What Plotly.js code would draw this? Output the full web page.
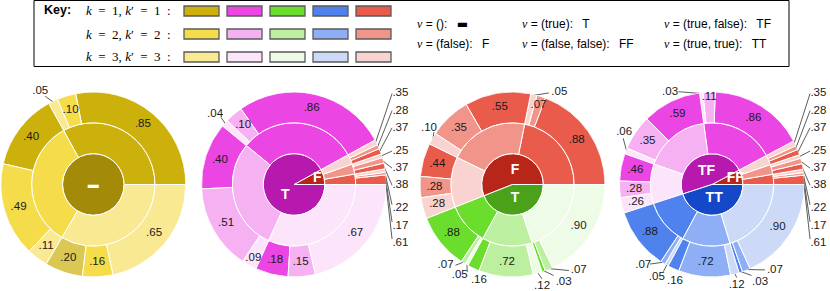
<!DOCTYPE html>
<html><head><meta charset="utf-8">
<script src="https://cdn.plot.ly/plotly-3.0.1.min.js"></script>
<style>html,body{margin:0;padding:0;background:#fff}</style>
</head><body><div id="chart" style="width:830px;height:291px"></div>
<script>
// ---------------- colours (center, k=1, k=2, k=3) ----------------
const yellowColors  = ['#A38B09','#CCB00C','#F5DC4A','#F8E992'];
const magentaColors = ['#B719AF','#EB45E3','#F5B1F1','#FCE4FB'];
const greenColors   = ['#4BA11A','#6BDD2C','#BCEFA0','#EEFBE6'];
const blueColors    = ['#1548C9','#5082EE','#8EAEF5','#CCDAF8'];
const redColors     = ['#B8261A','#E95B4B','#F1958B','#F9D3CF'];
const keyFamilies   = ['yellow','magenta','green','blue','red'];
const keyRowLabels  = ['<i>k</i>\u2002=\u20021, <i>k</i>′\u2002=\u20021\u2002:',
                       '<i>k</i>\u2002=\u20022, <i>k</i>′\u2002=\u20022\u2002:',
                       '<i>k</i>\u2002=\u20023, <i>k</i>′\u2002=\u20023\u2002:'];

// ---------------- chart 1 : v = () ----------------
const roots1    = ['▬'];
const families1 = ['yellow'];
const shares1   = [1];
const inner1    = [[0.33, 0.335, 0.335]];
const outer1    = [[.85,.10,.05],[.40,.49,.11],[.20,.16,.65]];
const faded1    = [6];

// ---------------- chart 2 : v = (true) / (false) ----------------
const roots2    = ['F','T'];
const families2 = ['red','magenta'];
const shares2   = [0.08, 0.92];
const inner2    = [[.34,.33,.33],[.338,.317,.345]];
const outer2    = [[.61,.17,.22],[.38,.37,.25],[.37,.28,.35],
                   [.86,.10,.04],[.40,.51,.09],[.18,.15,.67]];

// ---------------- chart 3 ----------------
const roots3    = ['F','T'];
const families3 = ['red','green'];
const shares3   = [0.56, 0.44];
const inner3    = [[.39,.374,.236],[.25,.30,.45]];
const outer3    = [[.88,.07,.05],[.55,.35,.10],[.44,.28,.28],
                   [.88,.07,.05],[.16,.72,.12],[.03,.07,.90]];

// ---------------- chart 4 ----------------
const roots4    = ['FF','TF','TT'];
const families4 = ['red','magenta','blue'];
const shares4   = [0.078, 0.472, 0.45];
const inner4    = [[.34,.33,.33],[.41,.37,.22],[.27,.28,.45]];
const outer4    = [[.61,.17,.22],[.38,.37,.25],[.37,.28,.35],
                   [.86,.11,.03],[.59,.35,.06],[.46,.28,.26],
                   [.88,.07,.05],[.16,.72,.12],[.03,.07,.90]];

// legend texts
const legendTexts = [
  ['(): ', '<span style="font-family:DejaVu Sans">▬</span>'], ['(false): ', 'F'],
  ['(true): ', 'T'], ['(false, false): ', 'FF'],
  ['(true, false): ', 'TF'], ['(true, true): ', 'TT']
];

// ---------------- label layout (ring units, relative to centre) ----------------
function fStack(){
  const o = {};
  for (let i = 0; i < 9; i++) {
    const y = -1.89 + i*0.555 + Math.floor(i/3)*0.2;
    o[i] = {label:[3.45, y], line:[[3.18, y + (y < -0.3 ? 0.12 : 0)]]};
  }
  return o;
}
const place1 = {2:{label:[-1.72,3.03], line:[[-1.56,2.86]]}};
const place2 = Object.assign(fStack(), {
  11:{label:[-2.56,2.29], line:[[-2.37,2.18]]}, 14:{r:2.72}});
const place3 = {1:{r:2.72}, 2:{label:[1.52,2.99], line:[[1.18,2.97]]},
  5:{label:[-2.71,1.84], line:[[-2.55,1.70]]},
  10:{label:[-2.17,-2.60], line:[[-1.85,-2.62]]},
  11:{label:[-1.71,-2.95], line:[[-1.47,-2.84]]},
  12:{label:[-1.09,-3.11]},
  14:{label:[0.96,-3.28], line:[[0.96,-3.06]]},
  15:{label:[1.66,-3.17], line:[[1.33,-2.95]]},
  16:{label:[2.15,-2.79], line:[[1.83,-2.79]]}};
const place4 = Object.assign(fStack(), {
  10:{r:2.85},
  11:{label:[-1.36,3.01], line:[[-1.09,3.01]]},
  14:{label:[-2.85,1.71], line:[[-2.88,1.50]]},
  19:{label:[-2.23,-2.61], line:[[-2.01,-2.58]]},
  20:{label:[-1.79,-2.99], line:[[-1.58,-2.83]]},
  21:{label:[-1.20,-3.12]},
  23:{label:[0.80,-3.26], line:[[0.80,-3.02]]},
  24:{label:[1.56,-3.15], line:[[1.28,-2.95]]},
  25:{label:[2.04,-2.77], line:[[1.72,-2.77]]}});

const palettes = {yellow:yellowColors, magenta:magentaColors, green:greenColors, blue:blueColors, red:redColors};
const charts = [
  {roots:roots1, fams:families1, shares:shares1, inner:inner1, outer:outer1, place:place1, faded:faded1, cx:93.3, cTheta:{}},
  {roots:roots2, fams:families2, shares:shares2, inner:inner2, outer:outer2, place:place2, faded:[], cx:294, cTheta:{1:231}},
  {roots:roots3, fams:families3, shares:shares3, inner:inner3, outer:outer3, place:place3, faded:[], cx:512.5, cTheta:{0:80}},
  {roots:roots4, fams:families4, shares:shares4, inner:inner4, outer:outer4, place:place4, faded:[], cx:712, cTheta:{}}
];

const W = 830, H = 291, CY = 184.5, RAD = 92.5, U = RAD / 3;
const px = x => x / W, py = y => 1 - y / H;
const sum = a => a.reduce((p, c) => p + c, 0);
const fmt = v => v.toFixed(2).replace(/^0/, '');
function fade(hex, a){
  const n = parseInt(hex.slice(1), 16);
  return `rgba(${n>>16},${(n>>8)&255},${n&255},${a})`;
}

const FONT = 'Liberation Sans, Arial, sans-serif';
const data = [];
const layout = {width:W, height:H, margin:{l:0,r:0,t:0,b:0}, paper_bgcolor:'#fff', plot_bgcolor:'rgba(0,0,0,0)',
  showlegend:false, shapes:[], annotations:[]};

charts.forEach((c, ci) => {
  const sub = ci === 0 ? 'polar' : 'polar' + (ci + 1);
  const xa = ci === 0 ? 'x' : 'x' + (ci + 1), ya = ci === 0 ? 'y' : 'y' + (ci + 1);
  const xk = ci === 0 ? 'xaxis' : 'xaxis' + (ci + 1), yk = ci === 0 ? 'yaxis' : 'yaxis' + (ci + 1);
  layout[sub] = {
    domain:{x:[px(c.cx - RAD), px(c.cx + RAD)], y:[(H - CY - RAD)/H, (H - CY + RAD)/H]},
    bgcolor:'rgba(0,0,0,0)', barmode:'overlay', hole:0,
    radialaxis:{visible:false, range:[0,3]},
    angularaxis:{visible:false, rotation:0, direction:'counterclockwise'}
  };
  // invisible cartesian frame in ring units centred on this chart (for outside labels)
  layout[xk] = {domain:[0,1], range:[-c.cx/U, (W - c.cx)/U], visible:false, fixedrange:true, anchor:ya};
  layout[yk] = {domain:[0,1], range:[-(H - CY)/U, CY/U], visible:false, fixedrange:true, anchor:xa};
  if (ci > 0) { layout[xk].overlaying = 'x'; layout[yk].overlaying = 'y'; }

  const bar = {type:'barpolar', subplot:sub, theta:[], width:[], base:[], r:[],
    marker:{color:[], line:{color:'#fff', width:1}}, hoverinfo:'skip'};
  const lab = {type:'scatterpolar', subplot:sub, mode:'text', r:[], theta:[], text:[],
    textfont:{family:FONT, size:11.5, color:'#1a1a1a'}, cliponaxis:false, hoverinfo:'skip'};
  const out = {type:'scatter', xaxis:xa, yaxis:ya, mode:'text', x:[], y:[], text:[],
    textfont:{family:FONT, size:11.5, color:'#1a1a1a'}, cliponaxis:false, hoverinfo:'skip'};
  const ln = {type:'scatter', xaxis:xa, yaxis:ya, mode:'lines', x:[], y:[],
    line:{color:'#333', width:0.8}, cliponaxis:false, connectgaps:false, hoverinfo:'skip'};
  const cen = {type:'scatterpolar', subplot:sub, mode:'text', r:[], theta:[], text:[],
    textfont:{family:FONT, size:14, color:'#fff', weight:'bold'}, cliponaxis:false, hoverinfo:'skip'};
  const push = (a0, span, b, col) => {
    bar.theta.push(a0 + span/2); bar.width.push(span); bar.base.push(b); bar.r.push(1); bar.marker.color.push(col);
  };
  let a0 = 0, n = 0;
  const tot = sum(c.shares);
  c.roots.forEach((name, i) => {
    const pal = palettes[c.fams[i]];
    const span = 360 * c.shares[i] / tot;
    push(a0, span, 0, pal[0]);
    if (c.roots.length === 1) {
      cen.text.push('<span style="font-size:11px">' + name + '</span>'); cen.r.push(0); cen.theta.push(0);
    } else {
      cen.text.push(name);
      cen.r.push(c.shares[i]/tot < 0.15 ? 0.78 : 0.45);
      cen.theta.push(c.cTheta[i] !== undefined ? c.cTheta[i] : a0 + span/2);
    }
    let b0 = a0;
    const isum = sum(c.inner[i]);
    c.inner[i].forEach((f, j) => {
      const s2 = span * f / isum;
      push(b0, s2, 1, pal[1 + j]);
      const grp = c.outer[i*3 + j];
      const gs = sum(grp);
      let c0 = b0;
      grp.forEach((v, k) => {
        const s3 = s2 * v / gs;
        const col = c.faded.includes(n) ? fade(pal[1 + k], 0.7) : pal[1 + k];
        push(c0, s3, 2, col);
        const mid = c0 + s3/2;
        const p = c.place[n];
        if (p && p.label) {
          out.x.push(p.label[0]); out.y.push(p.label[1]); out.text.push(fmt(v));
          if (p.line) {
            p.line.forEach(pt => { ln.x.push(pt[0]); ln.y.push(pt[1]); });
            const rad = mid * Math.PI / 180;
            ln.x.push(2.97 * Math.cos(rad)); ln.y.push(2.97 * Math.sin(rad));
            ln.x.push(null); ln.y.push(null);
          }
        } else {
          lab.text.push(fmt(v));
          lab.r.push(p && p.r ? p.r : 2.53); lab.theta.push(mid);
        }
        c0 += s3; n++;
      });
      b0 += s2;
    });
    a0 += span;
  });
  data.push(bar, lab, cen, ln, out);
});

// ---------------- key box ----------------
layout.shapes.push({type:'rect', xref:'paper', yref:'paper', x0:px(34), x1:px(789), y0:py(66.5), y1:py(0.5),
  line:{color:'#000', width:1}, fillcolor:'rgba(0,0,0,0)'});
keyFamilies.forEach((f, fi) => {
  for (let r = 0; r < 3; r++) {
    layout.shapes.push({type:'rect', xref:'paper', yref:'paper',
      x0:px(184 + 43*fi), x1:px(219 + 43*fi), y0:py(16 + 23*r), y1:py(6 + 23*r),
      fillcolor:palettes[f][1 + r], line:{color:'#5a5a5a', width:1.3}});
  }
});
layout.annotations.push({xref:'paper', yref:'paper', x:px(42), y:py(10.5), xanchor:'left', yanchor:'middle',
  showarrow:false, text:'<b>Key:</b>', font:{family:FONT, size:12.5, color:'#000'}});
keyRowLabels.forEach((t, r) => {
  layout.annotations.push({xref:'paper', yref:'paper', x:px(173), y:py(11 + 23*r), xanchor:'right', yanchor:'middle',
    showarrow:false, text:t, font:{family:'Liberation Serif, serif', size:13, color:'#000'}});
});
const legX = [415, 520, 662], legY = [23.5, 44];
legendTexts.forEach((t, i) => {
  const col = Math.floor(i/2), row = i % 2;
  layout.annotations.push({xref:'paper', yref:'paper', x:px(legX[col]), y:py(legY[row]), xanchor:'left', yanchor:'middle',
    showarrow:false,
    text:'<span style="font-family:Liberation Serif"><i>v</i></span> = ' + t[0] + '\u2002' + t[1],
    font:{family:FONT, size:12, color:'#000'}});
});

Plotly.newPlot('chart', data, layout, {staticPlot:true, displayModeBar:false});
</script></body></html>
